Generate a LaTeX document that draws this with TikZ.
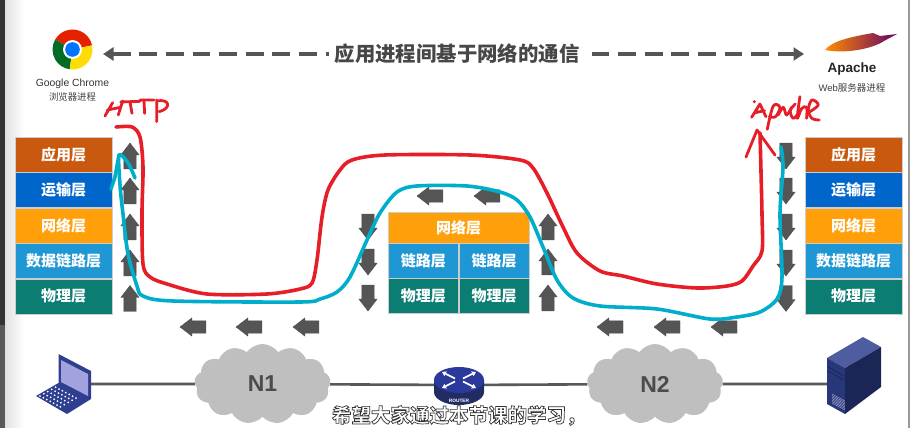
\documentclass[tikz,border=0pt]{standalone}
\usepackage{fontspec}
\setmainfont{Noto Sans CJK SC}
\newfontfamily\latfont{Liberation Sans}
\usetikzlibrary{arrows.meta, positioning, shapes.arrows, shapes.symbols}

\definecolor{appcol}{HTML}{C8590F}
\definecolor{transcol}{HTML}{0066CC}
\definecolor{netcol}{HTML}{FF9F0A}
\definecolor{linkcol}{HTML}{1F97D4}
\definecolor{phycol}{HTML}{0B7D72}
\definecolor{arrowcol}{HTML}{555555}
\definecolor{penred}{HTML}{E61E28}
\definecolor{penblue}{HTML}{00AECB}
\definecolor{cloudcol}{HTML}{BFBFBF}
\definecolor{navy}{HTML}{2F3F8F}

\tikzset{
    layerbox/.style={draw=white!80!black, line width=0.4pt, inner sep=0pt, text=white,
        minimum height=35pt, font=\fontsize{15}{15}\selectfont\bfseries},
    blockarrow/.style={single arrow, fill=arrowcol, draw=arrowcol!85!black, line width=0.3pt,
        inner sep=6pt, minimum height=26pt, minimum width=18pt,
        single arrow head extend=3pt, single arrow tip angle=75},
    uparrow/.style={blockarrow, shape border rotate=90, yshift=-4pt},
    downarrow/.style={blockarrow, shape border rotate=270, yshift=4pt},
    leftarrow/.style={blockarrow, shape border rotate=180, xshift=4pt},
    netcloud/.style={cloud, cloud puffs=13, cloud puff arc=110, aspect=1.7, fill=cloudcol, inner sep=0pt,
        minimum width=136pt, minimum height=80pt, text=black!70,
        font=\fontsize{23}{23}\latfont\bfseries},
    penline/.style={line width=3.6pt, line cap=round, line join=round},
    handline/.style={penred, line width=2.8pt, line cap=round, line join=round},
}

\begin{document}
\begin{tikzpicture}[x=1pt, y=-1pt, >=stealth]
    \useasboundingbox (0,0) rectangle (910,428);
    % window edges
    \shade [left color=black!12, right color=white] (5,0) rectangle (24,428);
    \fill [black!80] (0,0) rectangle (5,325);
    \fill [black!65] (0,325) rectangle (5,428);
    \fill [black!40] (908,0) rectangle (910,428);

    % process labels
    \coordinate (chrome) at (103,54);
    \coordinate (apache) at (804,54);
    \draw [arrowcol, line width=4.4pt, dash pattern=on 17.7pt off 8.9pt,
        {Triangle[length=10.5pt,width=13pt]}-{Triangle[length=10.5pt,width=13pt]}] (chrome) -- (apache);
    \node [fill=white, inner sep=6pt, text=black!72, font=\fontsize{20.4}{21}\selectfont\bfseries] (title) at (457,54) {应用进程间基于网络的通信};

    % chrome logo
    \begin{scope}[shift={(72.5,49.5)}, x=1pt, y=1pt]
        \fill [red!70!orange!90!black] (0,0) -- (12:20) arc [start angle=12, end angle=150, radius=20] -- cycle;
        \fill [green!50!black!85!blue] (0,0) -- (150:20) arc [start angle=150, end angle=262, radius=20] -- cycle;
        \fill [yellow!80!orange] (0,0) -- (262:20) arc [start angle=262, end angle=372, radius=20] -- cycle;
        \fill [white] (0,0) circle (9.5);
        \fill [blue!55!cyan] (0,0) circle (7.3);
    \end{scope}
    \node [text=black!80, font=\fontsize{10.4}{11}\latfont] (chromename) at (72.5,84) {Google Chrome};
    \node [text=black!75, font=\fontsize{9.4}{10}\selectfont] (chromeproc) at (72.5,96.5) {浏览器进程};

    % apache feather
    \shade [left color=orange!90!yellow, middle color=red!75!black, right color=violet!80!black, shading angle=90]
        (825,50) .. controls (832,41) and (850,37) .. (873,33) -- (880,36) -- (897,34) -- (884,41)
        .. controls (872,49) and (845,54) .. (825,50) -- cycle;
    \node [text=black!85, font=\fontsize{13.5}{14}\latfont\bfseries] (apachename) at (852,69) {Apache};
    \node [text=black!75, font=\fontsize{9.5}{10}\selectfont] (apacheproc) at (852,88) {\latfont Web\normalfont 服务器进程};

    % layer stacks
    \foreach \side/\px in {L/63.5, R/853.5} {
        \node [layerbox, fill=appcol, minimum width=97pt] (\side app) at (\px,154.7) {应用层};
        \node [layerbox, fill=transcol, minimum width=97pt, below=0pt of \side app] (\side trans) {运输层};
        \node [layerbox, fill=netcol, minimum width=97pt, below=0pt of \side trans] (\side net) {网络层};
        \node [layerbox, fill=linkcol, minimum width=97pt, below=0pt of \side net] (\side link) {数据链路层};
        \node [layerbox, fill=phycol, minimum width=97pt, below=0pt of \side link] (\side phy) {物理层};
    }
    \node [layerbox, fill=netcol, minimum width=141pt, minimum height=31pt] (midnet) at (458.5,227.5) {网络层};
    \node [layerbox, fill=linkcol, minimum width=70.5pt] (linkA) at (423.25,260.5) {链路层};
    \node [layerbox, fill=linkcol, minimum width=70.5pt, right=0pt of linkA] (linkB) {链路层};
    \node [layerbox, fill=phycol, minimum width=70.5pt, below=0pt of linkA] (phyA) {物理层};
    \node [layerbox, fill=phycol, minimum width=70.5pt, below=0pt of linkB] (phyB) {物理层};

    % block arrows
    \foreach \y [count=\i] in {156,191,227,263,298.5} {
        \node [uparrow] (upL\i) at (130,\y) {};
        \node [downarrow] (downR\i) at (786,\y) {};
    }
    \foreach \y [count=\i] in {227,262,298} {
        \node [downarrow] (downM\i) at (368,\y) {};
        \node [uparrow] (upM\i) at (548,\y) {};
    }
    \foreach \x [count=\i] in {193,249,306,610,667,724} {
        \node [leftarrow] (leftB\i) at (\x,327) {};
    }
    \foreach \x [count=\i] in {430,487} {
        \node [leftarrow] (leftT\i) at (\x,196) {};
    }

    % network
    \coordinate (laptop) at (90,384);
    \coordinate (router) at (459,385);
    \coordinate (server) at (830,384);
    \node [netcloud] (N1) at (262.5,384) {N1};
    \node [netcloud] (N2) at (655,384) {N2};
    \draw [black!65, line width=2.6pt] (laptop) -- (N1) (N1) -- (router) -- (N2) (N2) -- (server);

    % laptop
    \fill [navy] (58.5,354) -- (91,371) -- (91,399) -- (67,414) -- (36,396) -- (58.5,383) -- cycle;
    \fill [blue!40!black!25!white!85!blue] (61,360) -- (88,374) -- (88,396) -- (61,382) -- cycle;
    \foreach \u in {1,...,7} {
        \foreach \v in {1,...,5} {
            \fill [white] ({58+(\u-4)*3.4+(\v-3)*3.9},{397+(\u-4)*1.8-(\v-3)*2.2}) circle (1);
        }
    }

    % router
    \fill [navy!70!black] (434,380) -- (434,392) arc [start angle=180, end angle=0, x radius=25, y radius=13] -- (484,380) -- cycle;
    \fill [navy!90!blue] (459,380) ellipse [x radius=25, y radius=13];
    \foreach \sx/\sy in {-1/-1, 1/-1, -1/1, 1/1} {
        \draw [white, line width=1.7pt, -{Triangle[length=4pt,width=5pt]}] ({459+\sx*4},{380+\sy*1.5}) -- ({459+\sx*17},{380+\sy*8});
    }
    \node [text=white, font=\fontsize{4.8}{5}\latfont\bfseries, inner sep=0pt] (routername) at (459,400.5) {ROUTER};

    % server
    \fill [navy!85!white] (827,358) -- (863,337) -- (881,347) -- (845,368) -- cycle;
    \fill [navy!85!black] (827,358) -- (845,368) -- (845,414) -- (827,404) -- cycle;
    \fill [navy!60!black] (845,368) -- (881,347) -- (881,387) -- (845,414) -- cycle;
    \draw [navy!50!black, line width=0.5pt] (828,367) -- (844,376) (828,371) -- (844,380);
    \foreach \v in {0,1.5,...,9} {
        \draw [white!60!navy, line width=0.4pt] (832,{394+\v}) -- (845,{401+\v});
    }

    % pen strokes
    \draw [penline, penred] plot [smooth, tension=0.5] coordinates {
        (116,127) (132,127) (140,137) (143,167) (142,213) (143,264) (150,277) (167,284)
        (207,294) (267,294) (300,289) (312,283) (317,260) (322,217) (328,190) (340,170)
        (352,160) (385,155) (470,155) (520,160) (533,168) (547,193) (563,227) (577,253)
        (600,271) (623,276) (657,284) (697,288) (727,286) (742,281) (753,266) (762,251)
        (762,214) (760,133)};
    \draw [penline, penblue] plot [smooth, tension=0.5] coordinates {
        (135,178) (128,163) (119,155) (120,185) (123,214) (128,254) (137,286) (143,296)
        (173,301) (300,302) (320,299) (337,292) (350,277) (367,240) (380,213) (397,192)
        (417,186) (467,186) (500,192) (517,200) (530,217) (543,247) (557,280) (573,298)
        (600,306) (657,309) (710,319) (737,317) (760,312) (777,299) (782,277) (780,214)
        (783,167) (781,147)};
    \draw [penline, penblue] (119,155) -- (115,177) -- (111,189);
    \draw [penline, penred, line width=2.8pt] (746,157) -- (757,130) -- (775,155);

    % handwritten HTTP
    \begin{scope}[x=0.3333pt, y=-0.3333pt]
        \draw [handline] (315,348) -- (338,308) (322,330) -- (362,322) (368,303) -- (355,345);
        \draw [handline] (362,306) -- (420,304) (390,305) -- (396,340);
        \draw [handline] (420,300) -- (462,300) (432,302) -- (434,340);
        \draw [handline] (470,300) -- (470,365) (470,303) .. controls (510,295) and (515,325) .. (478,335);
    \end{scope}
    % handwritten Apache
    \begin{scope}[x=0.3333pt, y=-0.3333pt, shift={(1830,0)}]
        \draw [handline] (425,352) -- (450,312) -- (468,350) (436,338) -- (464,332);
        \fill [penred] (433,305) circle (5);
        \draw [handline] plot [smooth, tension=0.6] coordinates {(472,388) (490,318) (510,322) (497,350) (478,350)};
        \draw [handline] plot [smooth, tension=0.6] coordinates {(505,345) (520,322) (530,345) (545,322)};
        \draw [handline] plot [smooth, tension=0.6] coordinates {(556,312) (541,332) (550,355) (565,340)};
        \draw [handline] plot [smooth, tension=0.6] coordinates {(570,290) (562,355) (575,326) (590,322) (590,355)};
        \draw [handline] plot [smooth, tension=0.6] coordinates {(600,335) (625,315) (606,300) (595,330) (606,355) (628,360)};
    \end{scope}

    % subtitle
    \node [text=white, inner sep=0pt, font=\fontsize{19.5}{20}\selectfont\bfseries] (subtitle) at (458.8,415.5)
        {\special{pdf:code 2 Tr 0.7 w 0.2 0.2 0.2 RG}希望大家通过本节课的学习，\special{pdf:code 0 Tr}};
\end{tikzpicture}
\end{document}
